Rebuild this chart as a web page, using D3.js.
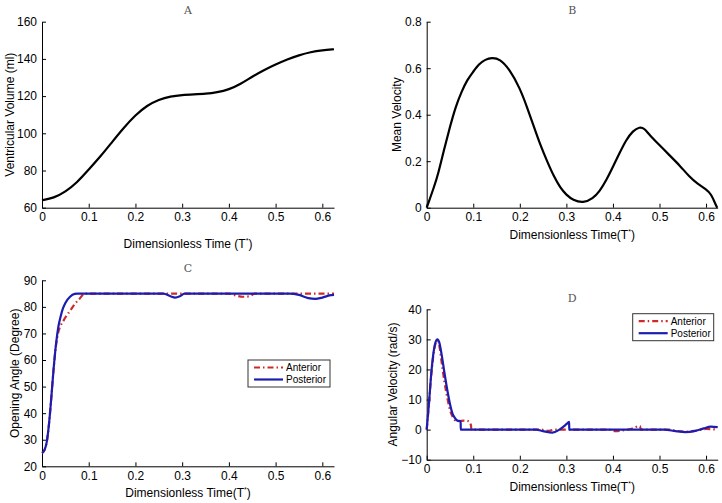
<!DOCTYPE html>
<html>
<head>
<meta charset="utf-8">
<script src="https://cdn.jsdelivr.net/npm/d3@7"></script>
<style>
  body { margin: 0; background: #fff; }
  svg { display: block; font-family: "Liberation Sans", Arial, sans-serif; }
</style>
</head>
<body>
<div id="chart"></div>
<script>
// panel A - ventricular volume
const volT = [0, 0.025, 0.05, 0.075, 0.1, 0.125, 0.15, 0.175, 0.2, 0.225, 0.25, 0.275, 0.3, 0.325, 0.35, 0.375, 0.4, 0.425, 0.45, 0.475, 0.5, 0.525, 0.55, 0.575, 0.6, 0.625];
const volume = [64, 65.2, 68.5, 73.5, 80.5, 87.5, 95.3, 103, 109.8, 115, 118.2, 119.9, 120.6, 120.9, 121.2, 122, 123.5, 126.5, 130.5, 134, 137, 139.8, 142, 143.7, 144.7, 145.2];

// panel B - mean velocity
const velT = [0, 0.016, 0.025, 0.037, 0.05, 0.062, 0.075, 0.087, 0.1, 0.112, 0.126, 0.14, 0.157, 0.178, 0.2, 0.216, 0.23, 0.244, 0.259, 0.273, 0.287, 0.3, 0.314, 0.336, 0.357, 0.371, 0.386, 0.4, 0.414, 0.428, 0.443, 0.457, 0.468, 0.478, 0.5, 0.521, 0.543, 0.564, 0.582, 0.6, 0.611, 0.621, 0.624];
const meanVel = [0, 0.09, 0.148, 0.248, 0.348, 0.434, 0.5, 0.55, 0.585, 0.618, 0.638, 0.645, 0.64, 0.595, 0.515, 0.43, 0.35, 0.27, 0.198, 0.135, 0.085, 0.055, 0.033, 0.019, 0.04, 0.069, 0.119, 0.176, 0.234, 0.291, 0.331, 0.348, 0.341, 0.313, 0.27, 0.226, 0.183, 0.133, 0.102, 0.08, 0.059, 0.011, 0];

// panel C - opening angle
const angPostT = [0, 0.005, 0.01, 0.015, 0.02, 0.025, 0.03, 0.035, 0.04, 0.045, 0.05, 0.06, 0.07, 0.075, 0.26, 0.275, 0.285, 0.295, 0.305, 0.53, 0.55, 0.57, 0.585, 0.6, 0.615, 0.625];
const angPost = [25, 26, 29, 36, 46, 57, 66, 72.5, 76.5, 79.5, 81.5, 83.8, 84.9, 85, 85, 84, 83.5, 84, 85, 85, 84.5, 83.3, 83, 83.5, 84.3, 84.5];
const angAntT = [0, 0.005, 0.01, 0.015, 0.02, 0.025, 0.03, 0.035, 0.04, 0.045, 0.05, 0.06, 0.07, 0.08, 0.092, 0.4, 0.41, 0.43, 0.445, 0.455, 0.625];
const angAnt = [25, 26, 29, 36, 46, 57, 65.5, 70.5, 73, 74.5, 76, 78.5, 81, 83, 85, 85, 84.5, 83.8, 84, 85, 85];

// panel D - angular velocity
const avPostT = [0, 0.005, 0.01, 0.015, 0.02, 0.023, 0.027, 0.032, 0.038, 0.045, 0.05, 0.055, 0.06, 0.066, 0.073, 0.0731, 0.235, 0.25, 0.27, 0.285, 0.3, 0.306, 0.3061, 0.51, 0.535, 0.555, 0.575, 0.595, 0.61, 0.625];
const avPost = [0, 9, 19, 26, 29.5, 30, 29, 25, 19, 12.5, 8.5, 5.5, 4, 3, 2.8, 0, 0, -0.5, -1, 0, 1.8, 2.6, 0, 0, -0.5, -0.8, -0.5, 0.4, 1, 0.8];
const avAntT = [0, 0.005, 0.01, 0.015, 0.02, 0.023, 0.027, 0.032, 0.038, 0.045, 0.05, 0.055, 0.06, 0.07, 0.08, 0.09, 0.095, 0.096, 0.245, 0.26, 0.275, 0.39, 0.405, 0.42, 0.44, 0.458, 0.46, 0.52, 0.545, 0.56, 0.58, 0.6, 0.625];
const avAnt = [0, 9, 18.5, 25.5, 29, 29.5, 28, 22.5, 16, 10, 6.5, 4.5, 3.2, 2.8, 3, 2.8, 1.5, 0, 0, -0.4, 0, 0, -0.5, -0.3, 0.3, 1.2, 0, 0, -0.6, -0.7, -0.3, 0.2, 0];

const xTicks = [0, 0.1, 0.2, 0.3, 0.4, 0.5, 0.6];
const legendNames = ["Anterior", "Posterior"];

const red = "#cf2a2a", blue = "#1c1cb0";
const svg = d3.select("#chart").append("svg").attr("width", 722).attr("height", 503);
svg.append("rect").attr("width", 722).attr("height", 503).attr("fill", "#fff");

const fmt = d3.format("");

function panel(p) {
  const x = d3.scaleLinear().domain([0, 0.625]).range([p.left, p.right]);
  const y = d3.scaleLinear().domain(p.yDomain).range([p.bottom, p.top]);
  const g = svg.append("g");

  g.append("g")
    .attr("transform", `translate(0,${p.bottom})`)
    .call(d3.axisBottom(x).tickValues(xTicks).tickFormat(fmt).tickSizeInner(-4).tickSizeOuter(0).tickPadding(5))
    .call(a => a.selectAll("text").attr("font-size", 12).attr("fill", "#000").attr("font-family", "Liberation Sans, Arial"));
  g.append("g")
    .attr("transform", `translate(${p.left},0)`)
    .call(d3.axisLeft(y).tickValues(p.yTicks).tickFormat(fmt).tickSizeInner(-4).tickSizeOuter(0).tickPadding(5))
    .call(a => a.selectAll("text").attr("font-size", 12).attr("fill", "#000").attr("font-family", "Liberation Sans, Arial"));

  p.series.forEach(s => {
    const pts = s.t.map((t, i) => [t, s.v[i]]);
    g.append("path")
      .datum(pts)
      .attr("fill", "none")
      .attr("stroke", s.color)
      .attr("stroke-width", 2.2)
      .attr("stroke-dasharray", s.dash || null)
      .attr("d", d3.line().x(d => x(d[0])).y(d => y(d[1])).curve(p.curve || d3.curveMonotoneX));
  });

  // title
  g.append("text")
    .attr("x", (p.left + p.right) / 2).attr("y", p.titleY)
    .attr("text-anchor", "middle")
    .attr("font-family", "DejaVu Serif, serif")
    .attr("font-size", 11).attr("fill", "#555")
    .text(p.title);

  // x label with superscript star
  const xl = g.append("text")
    .attr("x", (p.left + p.right) / 2).attr("y", p.xLabelY)
    .attr("text-anchor", "middle").attr("font-size", 12).attr("fill", "#000");
  xl.append("tspan").text(p.xLabel);
  xl.append("tspan").attr("dy", -5).attr("font-size", 7).text("*");
  xl.append("tspan").attr("dy", 5).text(")");

  g.append("text")
    .attr("transform", `translate(${p.yLabelX},${(p.top + p.bottom) / 2}) rotate(-90)`)
    .attr("text-anchor", "middle").attr("dy", "0.35em")
    .attr("font-size", 12).attr("fill", "#000")
    .text(p.yLabel);

  if (p.legend) {
    const L = p.legend;
    const lg = g.append("g").attr("transform", `translate(${L.x},${L.y})`);
    lg.append("rect").attr("width", L.w).attr("height", 27)
      .attr("fill", "#fff").attr("stroke", "#333").attr("stroke-width", 1);
    p.series.forEach((s, i) => {
      const yy = 7.5 + i * 12;
      lg.append("line").attr("x1", 6).attr("x2", 35).attr("y1", yy).attr("y2", yy)
        .attr("stroke", s.color).attr("stroke-width", 2.2).attr("stroke-dasharray", s.dash || null);
      lg.append("text").attr("x", 38).attr("y", yy).attr("dy", "0.35em")
        .attr("font-size", 10).attr("fill", "#000").text(legendNames[i]);
    });
  }
}

panel({
  left: 42, right: 334, top: 21.7, bottom: 207.7,
  yDomain: [60, 160], yTicks: [60, 80, 100, 120, 140, 160],
  title: "A", titleY: 13.5,
  xLabel: "Dimensionless Time (T", xLabelY: 247.5,
  yLabel: "Ventricular Volume (ml)", yLabelX: 10,
  curve: d3.curveBasis,
  series: [{ t: volT, v: volume, color: "#000" }]
});

panel({
  left: 426.7, right: 717.7, top: 21.7, bottom: 207.7,
  yDomain: [0, 0.8], yTicks: [0, 0.2, 0.4, 0.6, 0.8],
  title: "B", titleY: 13.5,
  xLabel: "Dimensionless Time(T", xLabelY: 238.5,
  yLabel: "Mean Velocity", yLabelX: 397,
  curve: d3.curveBasis,
  series: [{ t: velT, v: meanVel, color: "#000" }]
});

panel({
  left: 42, right: 334, top: 280.3, bottom: 466.3,
  yDomain: [20, 90], yTicks: [20, 30, 40, 50, 60, 70, 80, 90],
  title: "C", titleY: 272,
  xLabel: "Dimensionless Time(T", xLabelY: 496.5,
  yLabel: "Opening Angle (Degree)", yLabelX: 15,
  series: [
    { t: angAntT, v: angAnt, color: red, dash: "6,3,1.5,3" },
    { t: angPostT, v: angPost, color: blue }
  ],
  legend: { x: 248, y: 360, w: 82 }
});

panel({
  left: 426.7, right: 717.7, top: 309.3, bottom: 459.7,
  yDomain: [-10, 40], yTicks: [-10, 0, 10, 20, 30, 40],
  title: "D", titleY: 301.5,
  xLabel: "Dimensionless Time(T", xLabelY: 490.8,
  yLabel: "Angular Velocity (rad/s)", yLabelX: 392.7,
  series: [
    { t: avAntT, v: avAnt, color: red, dash: "6,3,1.5,3" },
    { t: avPostT, v: avPost, color: blue }
  ],
  legend: { x: 632.7, y: 313.7, w: 81 }
});
</script>
</body>
</html>
